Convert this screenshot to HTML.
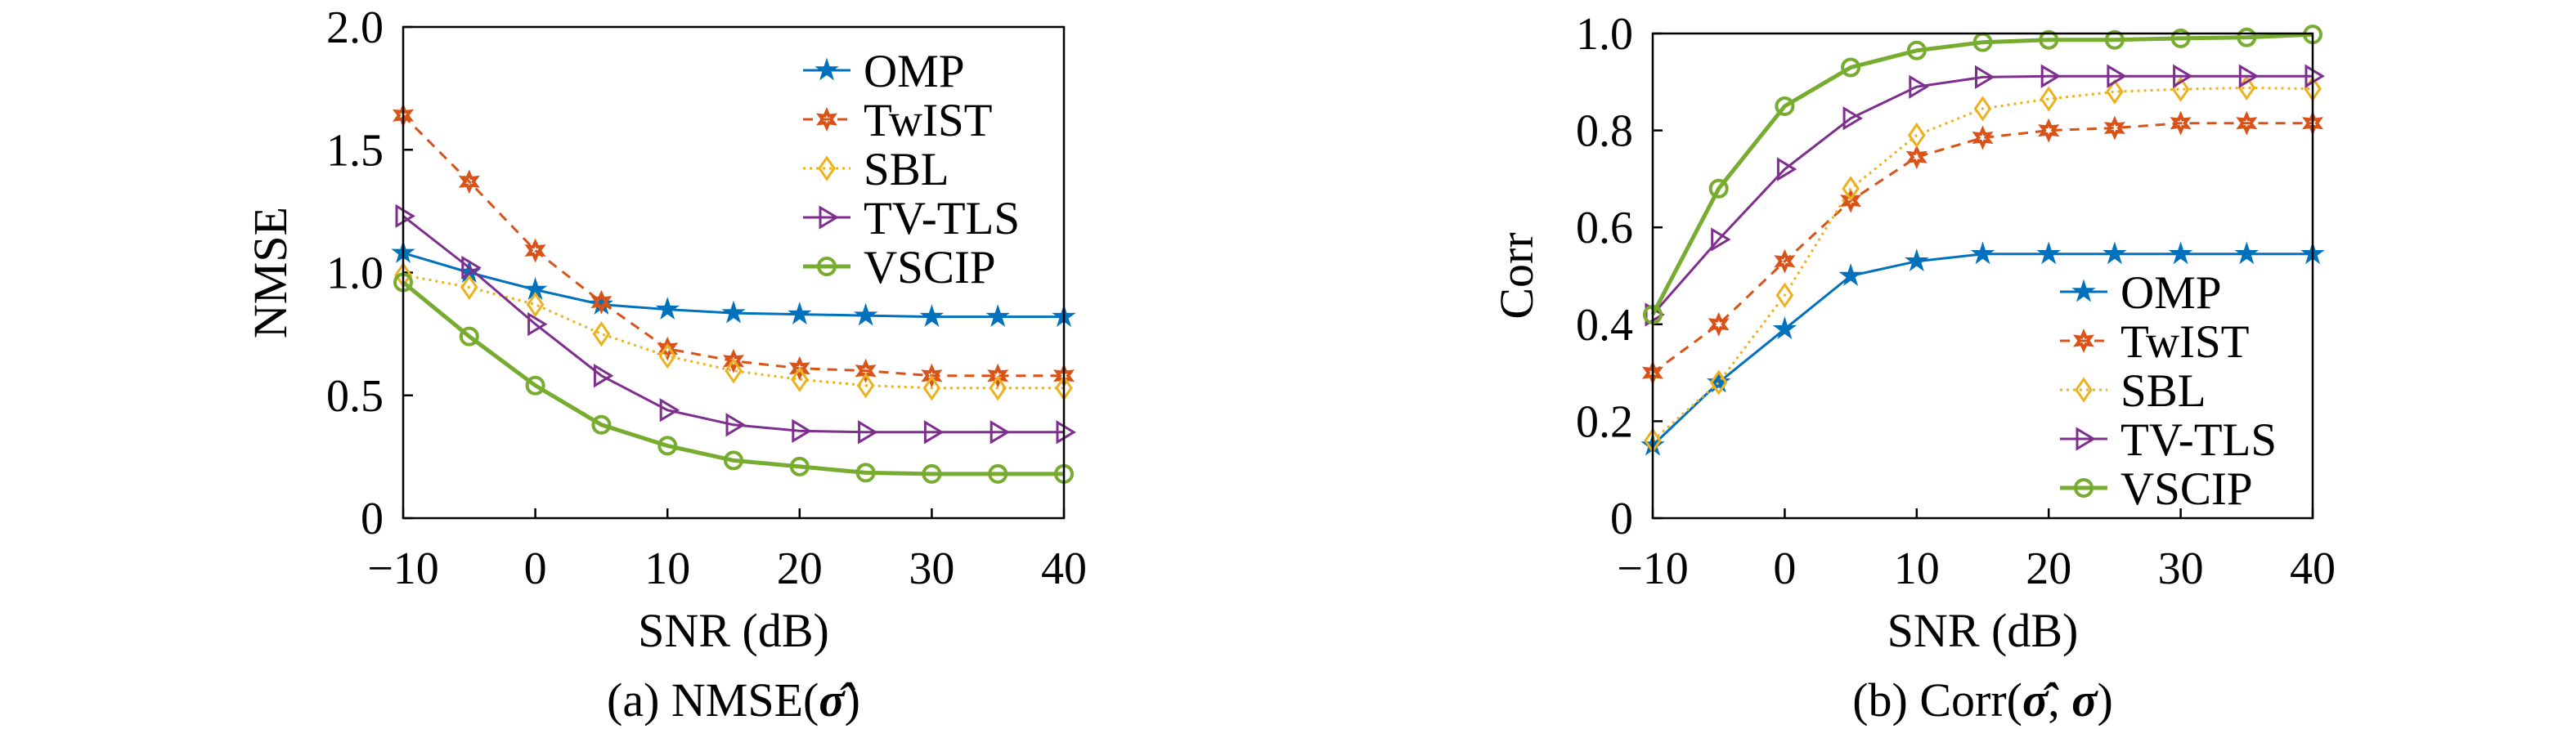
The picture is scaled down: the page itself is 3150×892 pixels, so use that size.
<!DOCTYPE html>
<html><head><meta charset="utf-8"><style>
html,body{margin:0;padding:0;background:#fff;}
svg{display:block;}
text{font-family:"Liberation Serif",serif;fill:#000;}
</style></head><body>
<svg id="fig" width="3150" height="892" viewBox="0 0 3150 892" xmlns="http://www.w3.org/2000/svg"></svg>
<script>
const snr = [-10,-5,0,5,10,15,20,25,30,35,40];
const xTicks = [-10,0,10,20,30,40];
const seriesNames = ["OMP","TwIST","SBL","TV-TLS","VSCIP"];
const nmseOMP   = [1.08,1.0,0.93,0.87,0.85,0.835,0.83,0.825,0.82,0.82,0.82];
const nmseTwIST = [1.64,1.37,1.09,0.88,0.69,0.64,0.61,0.60,0.58,0.58,0.58];
const nmseSBL   = [0.99,0.94,0.87,0.75,0.66,0.60,0.565,0.54,0.53,0.53,0.53];
const nmseTVTLS = [1.23,1.02,0.79,0.58,0.44,0.38,0.355,0.35,0.35,0.35,0.35];
const nmseVSCIP = [0.96,0.74,0.54,0.38,0.295,0.235,0.21,0.185,0.18,0.18,0.18];
const corrOMP   = [0.15,0.28,0.39,0.50,0.53,0.545,0.545,0.545,0.545,0.545,0.545];
const corrTwIST = [0.30,0.40,0.53,0.655,0.745,0.785,0.80,0.805,0.815,0.815,0.815];
const corrSBL   = [0.16,0.28,0.46,0.68,0.79,0.845,0.865,0.88,0.885,0.888,0.886];
const corrTVTLS = [0.42,0.575,0.72,0.825,0.89,0.91,0.912,0.912,0.912,0.912,0.912];
const corrVSCIP = [0.42,0.68,0.85,0.93,0.965,0.982,0.987,0.987,0.99,0.992,0.998];
const nmseTicks = [0,0.5,1.0,1.5,2.0];
const nmseTickLabels = ["0","0.5","1.0","1.5","2.0"];
const corrTicks = [0,0.2,0.4,0.6,0.8,1.0];
const corrTickLabels = ["0","0.2","0.4","0.6","0.8","1.0"];

const NS="http://www.w3.org/2000/svg";
const svg=document.getElementById('fig');
function el(tag,attrs,parent){const e=document.createElementNS(NS,tag);for(const k in attrs)e.setAttribute(k,attrs[k]);(parent||svg).appendChild(e);return e;}
const styles=[
 {c:"#0072BD",dash:"",w:3,m:"star"},
 {c:"#D95319",dash:"12,9",w:3,m:"hex"},
 {c:"#EDB120",dash:"3,5",w:3,m:"diamond"},
 {c:"#7E2F8E",dash:"",w:3,m:"tri"},
 {c:"#77AC30",dash:"",w:5,m:"circle"}];
function marker(g,type,x,y,c){
  let e;
  if(type==="star"){let p=[];for(let i=0;i<10;i++){const r=i%2?5:13;const a=-Math.PI/2+i*Math.PI/5;p.push((x+r*Math.cos(a)).toFixed(1)+","+(y+r*Math.sin(a)).toFixed(1));}
    e=el('polygon',{points:p.join(' '),fill:c,stroke:c,'stroke-width':1.5},g);}
  else if(type==="hex"){let p=[];for(let i=0;i<12;i++){const r=i%2?5:10;const a=-Math.PI/2+i*Math.PI/6;p.push((x+r*Math.cos(a)).toFixed(1)+","+(y+r*Math.sin(a)).toFixed(1));}
    e=el('polygon',{points:p.join(' '),fill:"none",stroke:c,'stroke-width':4},g);}
  else if(type==="diamond"){e=el('polygon',{points:`${x},${y-13} ${x+9},${y} ${x},${y+13} ${x-9},${y}`,fill:"none",stroke:c,'stroke-width':3},g);}
  else if(type==="tri"){e=el('polygon',{points:`${x-8},${y-12} ${x+12},${y} ${x-8},${y+12}`,fill:"none",stroke:c,'stroke-width':3},g);}
  else {e=el('circle',{cx:x,cy:y,r:10,fill:"none",stroke:c,'stroke-width':4},g);}
  
  
}
function panel(o){
  const g=el('g',{});
  
  
  const X=v=>o.L+(v-(-10))/50*(o.R-o.L);
  const Y=v=>o.B-(v-o.ymin)/(o.ymax-o.ymin)*(o.B-o.T);
  xTicks.forEach(t=>{
    const tk=el('line',{x1:X(t),x2:X(t),y1:o.B,y2:o.B-12,stroke:"#000",'stroke-width':2.5},g);
    
    const tx=el('text',{x:X(t),y:o.B+80,'font-size':56,'text-anchor':'middle'},g);
    tx.textContent=t<0?"\u2212"+(-t):String(t);
    
  });
  o.yt.forEach((t,i)=>{
    const tk=el('line',{x1:o.L,x2:o.L+12,y1:Y(t),y2:Y(t),stroke:"#000",'stroke-width':2.5},g);
    
    const tx=el('text',{x:o.L-24,y:Y(t)+19,'font-size':56,'text-anchor':'end'},g);
    tx.textContent=o.yl[i];
    
  });
  o.data.forEach((d,k)=>{
    const s=styles[k];
    const pts=d.map((v,i)=>X(snr[i]).toFixed(1)+","+Y(v).toFixed(1)).join(' ');
    const pl=el('polyline',{points:pts,fill:"none",stroke:s.c,'stroke-width':s.w,'stroke-dasharray':s.dash},g);
    
    d.forEach((v,i)=>marker(g,s.m,X(snr[i]),Y(v),s.c));
  });
  const box=el('rect',{x:o.L,y:o.T,width:o.R-o.L,height:o.B-o.T,fill:"none",stroke:"#000",'stroke-width':2.5},g);
  
  const xl=el('text',{x:(o.L+o.R)/2,y:o.B+157,'font-size':58,'text-anchor':'middle'},g);
  xl.textContent="SNR (dB)";
  const yl=el('text',{x:0,y:0,'font-size':58,'text-anchor':'middle',transform:`translate(${o.ylx},${(o.T+o.B)/2}) rotate(-90)`},g);
  yl.textContent=o.ylabel;
  const cap=el('text',{x:(o.L+o.R)/2,y:o.B+242,'font-size':58,'text-anchor':'middle'},g);
  cap.innerHTML=o.caption;
  const lg=el('g',{},g);
  
  seriesNames.forEach((n,k)=>{
    const s=styles[k];const y=o.legY+k*60;
    const ln=el('line',{x1:o.legX,x2:o.legX+58,y1:y,y2:y,stroke:s.c,'stroke-width':s.w,'stroke-dasharray':s.dash},lg);
    
    marker(lg,s.m,o.legX+29,y,s.c);
    const t=el('text',{x:o.legX+74,y:y+20,'font-size':57},lg);
    t.textContent=n;
  });
}
panel({name:'nmse-panel',L:493,R:1301,T:33,B:634,ymin:0,ymax:2,yt:nmseTicks,yl:nmseTickLabels,
  data:[nmseOMP,nmseTwIST,nmseSBL,nmseTVTLS,nmseVSCIP],ylabel:"NMSE",ylx:350,
  caption:'(a) NMSE(<tspan font-weight="bold" font-style="italic">σ̂</tspan>)',legX:982,legY:86});
panel({name:'corr-panel',L:2021,R:2828,T:41,B:634,ymin:0,ymax:1,yt:corrTicks,yl:corrTickLabels,
  data:[corrOMP,corrTwIST,corrSBL,corrTVTLS,corrVSCIP],ylabel:"Corr",ylx:1874,
  caption:'(b) Corr(<tspan font-weight="bold" font-style="italic">σ̂</tspan>, <tspan font-weight="bold" font-style="italic">σ</tspan>)',legX:2519,legY:357});
</script>
</body></html>
